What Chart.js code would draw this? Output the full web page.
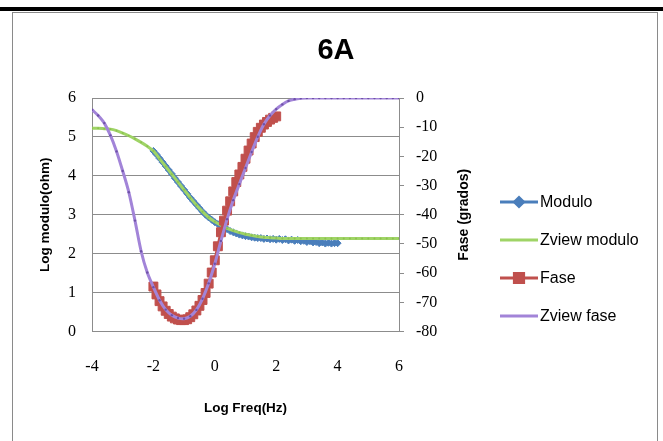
<!DOCTYPE html>
<html>
<head>
<meta charset="utf-8">
<script src="https://cdn.jsdelivr.net/npm/chart.js@4.4.1/dist/chart.umd.min.js"></script>
<style>
  body { margin: 0; background: #fff; }
  #bar { position: absolute; left: 0; top: 7px; width: 663px; height: 4px; background: #000; }
  #box { position: absolute; left: 12px; top: 12px; width: 646px; height: 440px; border: 1px solid #8a8a8a; box-sizing: border-box; }
  #chart { position: absolute; left: 0; top: 0; }
</style>
</head>
<body>
<div id="bar"></div>
<div id="box"></div>
<canvas id="chart" width="663" height="441"></canvas>
<script>
const xTicks = [-4, -2, 0, 2, 4, 6];
const moduloTicks = [0, 1, 2, 3, 4, 5, 6];
const faseTicks = [-80, -70, -60, -50, -40, -30, -20, -10, 0];

// medidos: log f cada 0.1 decada
const freqModulo = [-2.0, -1.9, -1.8, -1.7, -1.6, -1.5, -1.4, -1.3, -1.2, -1.1, -1.0, -0.9, -0.8, -0.7, -0.6, -0.5, -0.4, -0.3, -0.2, -0.1,
  0.0, 0.1, 0.2, 0.3, 0.4, 0.5, 0.6, 0.7, 0.8, 0.9, 1.0, 1.1, 1.2, 1.3, 1.4, 1.5, 1.6, 1.7, 1.8, 1.9,
  2.0, 2.1, 2.2, 2.3, 2.4, 2.5, 2.6, 2.7, 2.8, 2.9, 3.0, 3.1, 3.2, 3.3, 3.4, 3.5, 3.6, 3.7, 3.8, 3.9, 4.0];
const modulo = [4.64, 4.55, 4.45, 4.35, 4.25, 4.15, 4.05, 3.94, 3.84, 3.74, 3.64, 3.54, 3.44, 3.35, 3.26, 3.17, 3.08, 3.00, 2.93, 2.87,
  2.81, 2.76, 2.71, 2.67, 2.63, 2.58, 2.55, 2.52, 2.49, 2.47, 2.45, 2.44, 2.42, 2.41, 2.40, 2.40, 2.38, 2.39, 2.37, 2.38,
  2.36, 2.38, 2.35, 2.37, 2.34, 2.36, 2.33, 2.35, 2.32, 2.33, 2.30, 2.32, 2.29, 2.30, 2.27, 2.29, 2.26, 2.28, 2.26, 2.27, 2.27];

const freqFase = [-2.0, -1.9, -1.8, -1.7, -1.6, -1.5, -1.4, -1.3, -1.2, -1.1, -1.0, -0.9, -0.8, -0.7, -0.6, -0.5, -0.4, -0.3, -0.2, -0.1,
  0.0, 0.1, 0.2, 0.3, 0.4, 0.5, 0.6, 0.7, 0.8, 0.9, 1.0, 1.1, 1.2, 1.3, 1.4, 1.5, 1.6, 1.7, 1.8, 1.9, 2.0];
const fase = [-64.6, -67.3, -69.6, -71.4, -72.9, -74.0, -74.9, -75.5, -75.9, -76.1, -76.1, -75.8, -75.1, -74.1, -72.8, -71.2, -69.2, -66.8, -63.6, -59.8,
  -55.6, -50.8, -46.0, -42.0, -38.6, -35.4, -32.0, -28.8, -26.2, -23.6, -20.8, -18.0, -15.6, -13.4, -11.6, -10.2, -9.1, -8.2, -7.4, -6.8, -6.3];

// ajuste Zview: log f cada 0.2 decada
const freqZview = [-4.0, -3.8, -3.6, -3.4, -3.2, -3.0, -2.8, -2.6, -2.4, -2.2, -2.0, -1.8, -1.6, -1.4, -1.2, -1.0, -0.8, -0.6, -0.4, -0.2,
  0.0, 0.2, 0.4, 0.6, 0.8, 1.0, 1.2, 1.4, 1.6, 1.8, 2.0, 2.2, 2.4, 2.6, 2.8, 3.0, 3.2, 3.4, 3.6, 3.8,
  4.0, 4.2, 4.4, 4.6, 4.8, 5.0, 5.2, 5.4, 5.6, 5.8, 6.0];
const zviewModulo = [5.22, 5.22, 5.21, 5.20, 5.16, 5.10, 5.03, 4.95, 4.86, 4.76, 4.64, 4.44, 4.24, 4.04, 3.84, 3.64, 3.44, 3.25, 3.08, 2.93,
  2.82, 2.73, 2.65, 2.59, 2.54, 2.50, 2.47, 2.44, 2.42, 2.41, 2.40, 2.39, 2.39, 2.39, 2.39, 2.39, 2.39, 2.39, 2.39, 2.39,
  2.39, 2.39, 2.39, 2.39, 2.39, 2.39, 2.39, 2.39, 2.39, 2.39, 2.39];
const zviewFase = [-4.0, -6.0, -8.6, -12.8, -18.3, -25.0, -32.3, -42.0, -52.5, -59.8, -64.8, -69.3, -72.5, -74.4, -75.4, -75.6, -74.8, -72.6, -68.8, -63.5,
  -56.8, -49.0, -41.5, -35.0, -29.5, -24.0, -18.5, -13.3, -9.0, -6.0, -3.8, -2.2, -1.0, -0.4, -0.1, 0, 0, 0, 0, 0,
  0, 0, 0, 0, 0, 0, 0, 0, 0, 0, 0];

const pts = (xs, ys) => xs.map((x, i) => ({ x: x, y: ys[i] }));

const gris = '#8c8c8c';
const serif = "'Liberation Serif', 'DejaVu Serif', serif";
const sans = "'Liberation Sans', Arial, sans-serif";

const extras = {
  id: 'extras',
  afterDraw(chart) {
    const ctx = chart.ctx;
    // titulo centrado en todo el recuadro
    ctx.save();
    ctx.font = 'bold 29px ' + sans;
    ctx.fillStyle = '#000';
    ctx.textAlign = 'center';
    ctx.textBaseline = 'middle';
    ctx.fillText('6A', 336, 51);
    ctx.restore();

    // titulo eje derecho, leido de abajo hacia arriba
    ctx.save();
    ctx.translate(464, (chart.chartArea.top + chart.chartArea.bottom) / 2);
    ctx.rotate(-Math.PI / 2);
    ctx.font = 'bold 14px ' + sans;
    ctx.fillStyle = '#000';
    ctx.textAlign = 'center';
    ctx.textBaseline = 'middle';
    ctx.fillText('Fase (grados)', 0, 0);
    ctx.restore();

    const filas = [202, 240, 278, 316];
    chart.data.datasets.forEach((ds, i) => {
      const y = filas[i];
      ctx.save();
      ctx.strokeStyle = ds.borderColor;
      ctx.lineWidth = 3;
      ctx.beginPath();
      ctx.moveTo(500, y);
      ctx.lineTo(538, y);
      ctx.stroke();
      if (ds.legendMarker) {
        Chart.helpers.drawPoint(ctx, { pointStyle: ds.pointStyle, radius: ds.legendMarker, borderWidth: 1 }, 519, y);
        ctx.fillStyle = ds.pointBackgroundColor;
        ctx.fill();
      }
      ctx.font = '16px ' + sans;
      ctx.fillStyle = '#000';
      ctx.textAlign = 'left';
      ctx.textBaseline = 'middle';
      ctx.fillText(ds.label, 540, y + 1);
      ctx.restore();
    });
  }
};

new Chart(document.getElementById('chart'), {
  type: 'scatter',
  data: {
    datasets: [
      {
        label: 'Modulo', data: pts(freqModulo, modulo), yAxisID: 'y', showLine: true, order: 4,
        borderColor: '#4a7ebb', borderWidth: 3, pointStyle: 'rectRot', pointRadius: 3.5,
        pointBackgroundColor: '#4a7ebb', pointBorderColor: '#4a7ebb', pointBorderWidth: 1, legendMarker: 4.5
      },
      {
        label: 'Zview modulo', data: pts(freqZview, zviewModulo), yAxisID: 'y', showLine: true, order: 3,
        borderColor: '#9fd466', borderWidth: 3, tension: 0.3, pointRadius: 1,
        pointBackgroundColor: '#8cc04f', pointBorderColor: '#8cc04f', pointBorderWidth: 0
      },
      {
        label: 'Fase', data: pts(freqFase, fase), yAxisID: 'y2', showLine: true, order: 2,
        borderColor: '#c0504d', borderWidth: 3, pointStyle: 'rect', pointRadius: 6.3,
        pointBackgroundColor: '#c0504d', pointBorderColor: '#c0504d', pointBorderWidth: 1, legendMarker: 6.5
      },
      {
        label: 'Zview fase', data: pts(freqZview, zviewFase), yAxisID: 'y2', showLine: true, order: 1,
        borderColor: '#a284d8', borderWidth: 3, tension: 0.3, pointRadius: 1.2,
        pointBackgroundColor: '#6f52a8', pointBorderColor: '#6f52a8', pointBorderWidth: 0
      }
    ]
  },
  options: {
    responsive: false,
    animation: false,
    layout: { padding: { left: 33, right: 184, top: 98, bottom: 14.5 } },
    plugins: {
      legend: { display: false },
      tooltip: { enabled: false },
      title: { display: false }
    },
    scales: {
      x: {
        type: 'linear', min: xTicks[0], max: xTicks[xTicks.length - 1],
        afterBuildTicks: s => { s.ticks = xTicks.map(v => ({ value: v })); },
        afterFit: s => { s.height = 95; },
        grid: { drawOnChartArea: false, drawTicks: false },
        border: { color: gris },
        ticks: { color: '#000', font: { family: serif, size: 16 }, padding: 26 },
        title: { display: true, text: 'Log Freq(Hz)', color: '#000', font: { family: sans, size: 13.5, weight: 'bold' }, padding: { top: 4, bottom: 10 } }
      },
      y: {
        position: 'left', min: 0, max: 6,
        afterBuildTicks: s => { s.ticks = moduloTicks.map(v => ({ value: v })); },
        afterFit: s => { s.width = 59; },
        grid: { color: gris, drawTicks: false },
        border: { color: gris },
        ticks: { color: '#000', font: { family: serif, size: 16 }, padding: 16 },
        title: { display: true, text: 'Log modulo(ohm)', color: '#000', font: { family: sans, size: 13.5, weight: 'bold' } }
      },
      y2: {
        position: 'right', min: -80, max: 0,
        afterBuildTicks: s => { s.ticks = faseTicks.map(v => ({ value: v })); },
        afterFit: s => { s.width = 80; },
        grid: { drawOnChartArea: false, drawTicks: true, tickLength: 5, color: gris },
        border: { color: gris },
        ticks: { color: '#000', font: { family: serif, size: 16 }, padding: 12 }
      }
    }
  },
  plugins: [extras]
});
</script>
</body>
</html>
